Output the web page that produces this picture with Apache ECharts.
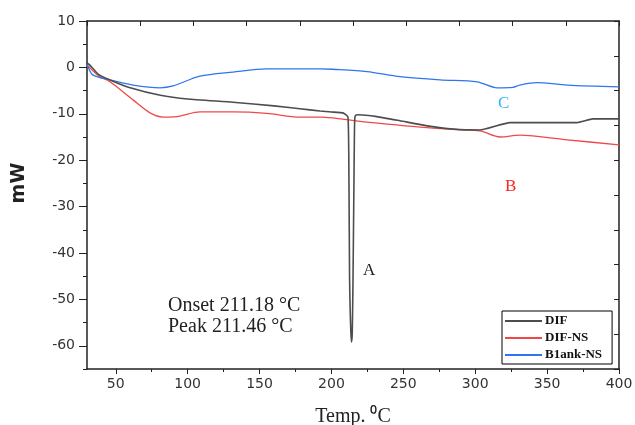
<!DOCTYPE html>
<html>
<head>
<meta charset="utf-8">
<script src="https://cdn.jsdelivr.net/npm/echarts@6/dist/echarts.min.js"></script>
<style>
  html, body { margin: 0; padding: 0; background: #fff; }
  #chart { width: 635px; height: 425px; }
</style>
</head>
<body>
<div id="chart"></div>
<script>
// DSC curves (temperature in °C, heat flow in mW)
const difTemp = [30, 32, 38, 46, 60, 81, 100, 131.5, 160, 178, 192, 200, 208, 211.5, 212.2, 212.6, 213, 213.5, 214, 214.5, 215, 215.5, 216, 216.3, 217, 218.5, 231.7, 247.7, 266.5, 284.6, 303.3, 324.2, 350, 370.8, 381.9, 400];
const difMw = [1, 0.5, -1.5, -2.7, -4.4, -6, -6.8, -7.5, -8.3, -8.9, -9.4, -9.6, -9.8, -10.7, -25, -45, -52, -57, -59.2, -57, -46, -30, -14, -10.8, -10.3, -10.2, -10.6, -11.5, -12.6, -13.3, -13.5, -11.9, -11.9, -11.9, -11.1, -11.1];

const difNsTemp = [30, 30.7, 35, 39, 46, 62, 73.8, 82.9, 92.6, 108.6, 131.5, 155, 178, 192, 224.7, 270.6, 303.3, 317.2, 331, 364, 400];
const difNsMw = [0.5, 0.3, -1, -2, -3.1, -7, -9.8, -10.7, -10.6, -9.6, -9.6, -9.9, -10.7, -10.7, -11.8, -13.1, -13.7, -15, -14.6, -15.6, -16.7];

const blankTemp = [30, 30.7, 34, 46, 62, 80.8, 89.8, 108.6, 131.5, 155, 192, 201, 224.7, 247.7, 275.5, 301.3, 315.2, 326.3, 331, 343, 364, 400];
const blankMw = [0.6, 0.1, -1.6, -2.7, -3.8, -4.4, -4, -1.9, -1, -0.3, -0.3, -0.4, -0.9, -2, -2.7, -3.1, -4.4, -4.3, -3.8, -3.3, -3.8, -4.2];

const xTicks = [50, 100, 150, 200, 250, 300, 350, 400];
const xMinorTicks = [75, 125, 175, 225, 275, 325, 375];
const yTicks = [-60, -50, -40, -30, -20, -10, 0, 10];
const yMinorTicks = [-65, -55, -45, -35, -25, -15, -5, 5];

function pairs(xs, ys) {
  return xs.map((x, i) => [x, ys[i]]);
}

const axisColor = "#222";
const tickFont = { color: "#333", fontSize: 14, fontFamily: "DejaVu Sans" };
const serif = "Liberation Serif";

let myChart = echarts.init(document.getElementById("chart"));
let option = {
  backgroundColor: "#fff",
  animation: false,
  grid: { left: 87, right: 16, top: 21, bottom: 56, outerBoundsMode: "none" },
  legend: {
    left: 502,
    top: 311,
    orient: "vertical",
    padding: [3, 10, 2, 3],
    itemGap: 3,
    itemWidth: 37,
    itemHeight: 2,
    icon: "rect",
    borderColor: "#000",
    borderWidth: 1,
    backgroundColor: "#fff",
    textStyle: { fontFamily: serif, fontSize: 13, fontWeight: "bold", color: "#111", lineHeight: 14, padding: [0, 0, 0, -2] },
    data: ["DIF", "DIF-NS", "B1ank-NS"],
  },
  xAxis: [
    {
      type: "value",
      min: 30,
      max: 400,
      position: "bottom",
      name: "Temp. ⁰C",
      nameLocation: "middle",
      nameGap: 38,
      nameTextStyle: { fontFamily: serif, fontSize: 20, color: "#222" },
      axisLine: { show: true, onZero: false, lineStyle: { color: axisColor, width: 1.5 } },
      axisTick: { show: true, customValues: xTicks, length: 5, lineStyle: { color: axisColor } },
      axisLabel: { customValues: xTicks, margin: 8, ...tickFont },
      splitLine: { show: false },
    },
    {
      type: "value",
      min: 30,
      max: 400,
      position: "bottom",
      axisLine: { show: false, onZero: false },
      axisTick: { show: true, customValues: xMinorTicks, length: 3, lineStyle: { color: axisColor } },
      axisLabel: { show: false },
      splitLine: { show: false },
    },
    {
      type: "value",
      min: 0,
      max: 10,
      interval: 1,
      position: "top",
      axisLine: { show: true, onZero: false, lineStyle: { color: axisColor, width: 1.5 } },
      axisTick: { show: true, inside: true, length: 5, lineStyle: { color: axisColor } },
      axisLabel: { show: false },
      splitLine: { show: false },
    },
  ],
  yAxis: [
    {
      type: "value",
      min: -65,
      max: 10,
      name: "mW",
      nameLocation: "middle",
      nameRotate: 90,
      nameGap: 58,
      nameTextStyle: { fontFamily: "DejaVu Sans", fontSize: 19, fontWeight: "bold", color: "#222", padding: [0, 0, 0, 24] },
      axisLine: { show: true, onZero: false, lineStyle: { color: axisColor, width: 1.5 } },
      axisTick: { show: true, customValues: yTicks, length: 8, lineStyle: { color: axisColor } },
      axisLabel: { customValues: yTicks, margin: 12, ...tickFont },
      splitLine: { show: false },
    },
    {
      type: "value",
      min: -65,
      max: 10,
      position: "left",
      axisLine: { show: false, onZero: false },
      axisTick: { show: true, customValues: yMinorTicks, length: 4, lineStyle: { color: axisColor } },
      axisLabel: { show: false },
      splitLine: { show: false },
    },
    {
      type: "value",
      min: 0,
      max: 10,
      interval: 1,
      position: "right",
      axisLine: { show: true, onZero: false, lineStyle: { color: axisColor, width: 1.5 } },
      axisTick: { show: true, inside: true, length: 5, lineStyle: { color: axisColor } },
      axisLabel: { show: false },
      splitLine: { show: false },
    },
  ],
  series: [
    {
      name: "DIF",
      type: "line",
      data: pairs(difTemp, difMw),
      showSymbol: false,
      smooth: 0.15,
      lineStyle: { color: "#4d4d4d", width: 1.6 },
      itemStyle: { color: "#4d4d4d" },
      z: 3,
    },
    {
      name: "DIF-NS",
      type: "line",
      data: pairs(difNsTemp, difNsMw),
      showSymbol: false,
      smooth: 0.3,
      lineStyle: { color: "#f04848", width: 1.3 },
      itemStyle: { color: "#f04848" },
      z: 2,
    },
    {
      name: "B1ank-NS",
      type: "line",
      data: pairs(blankTemp, blankMw),
      showSymbol: false,
      smooth: 0.3,
      lineStyle: { color: "#2f76ee", width: 1.3 },
      itemStyle: { color: "#2f76ee" },
      z: 2,
    },
  ],
  graphic: [
    { type: "text", left: 363, top: 262, style: { text: "A", font: "17px " + serif, fill: "#222" } },
    { type: "text", left: 505, top: 178, style: { text: "B", font: "17px " + serif, fill: "#ff2020" } },
    { type: "text", left: 498, top: 95, style: { text: "C", font: "17px " + serif, fill: "#2ab8f0" } },
    { type: "text", left: 168, top: 296, style: { text: "Onset 211.18 °C", font: "20px " + serif, fill: "#222" } },
    { type: "text", left: 168, top: 317, style: { text: "Peak 211.46 °C", font: "20px " + serif, fill: "#222" } },
  ],
};
option && myChart.setOption(option);
</script>
</body>
</html>
